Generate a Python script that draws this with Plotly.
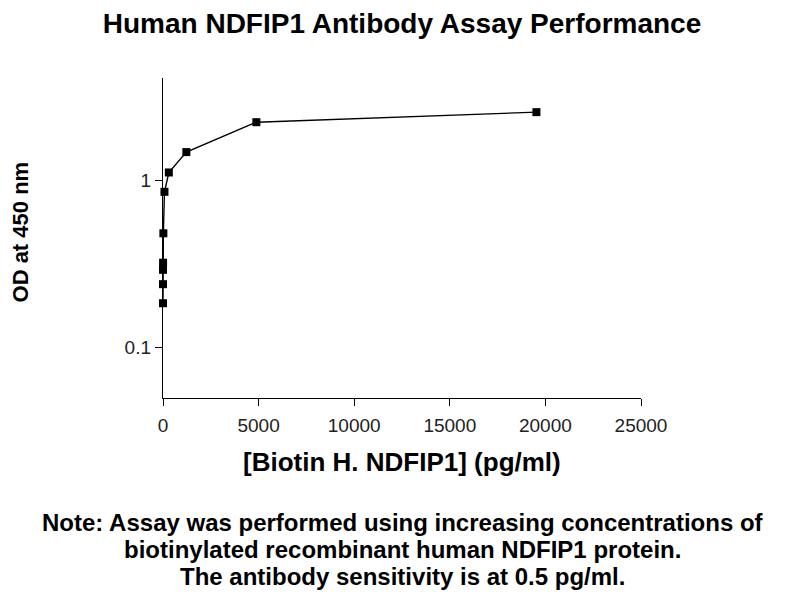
import plotly.graph_objects as go

# concentraciones (pg/ml) y lecturas de OD a 450 nm
concentracion = [0.076, 0.3, 1.22, 4.88, 19.5, 76.3, 305, 1221, 4883, 19531]
od_450 = [0.183, 0.238, 0.29, 0.32, 0.48, 0.85, 1.11, 1.47, 2.22, 2.55]

x_ticks = [0, 5000, 10000, 15000, 20000, 25000]
x_tick_text = ['0', '5000', '10000', '15000', '20000', '25000']
y_ticks = [0.1, 1]
y_tick_text = ['0.1', '1']

titulo = 'Human NDFIP1 Antibody Assay Performance'
titulo_x = '[Biotin H. NDFIP1] (pg/ml)'
titulo_y = 'OD at 450 nm'
nota = [
    'Note: Assay was performed using increasing concentrations of',
    'biotinylated recombinant human NDFIP1 protein.',
    'The antibody sensitivity is at 0.5 pg/ml.',
]

fuente = 'Liberation Sans, Arial, sans-serif'

fig = go.Figure()
fig.add_trace(go.Scatter(
    x=concentracion,
    y=od_450,
    mode='lines+markers',
    line=dict(color='black', width=1.4),
    marker=dict(symbol='square', size=8, color='black'),
    showlegend=False,
    cliponaxis=False,
))

fig.update_layout(
    width=800,
    height=600,
    margin=dict(l=155, r=167, t=70, b=210),
    plot_bgcolor='white',
    paper_bgcolor='white',
    font=dict(family=fuente, color='#111'),
    title=dict(
        text='<b>' + titulo + '</b>',
        x=0.5, xref='paper', xanchor='center',
        y=0.975, yref='container', yanchor='middle',
        font=dict(size=28, color='black'),
    ),
)

fig.update_xaxes(
    range=[0, 25000],
    tickvals=x_ticks,
    ticktext=x_tick_text,
    ticks='outside', ticklen=7, tickwidth=1.4, tickcolor='black',
    ticklabelstandoff=3,
    showline=True, linecolor='black', linewidth=1.4,
    showgrid=False, zeroline=False,
    tickfont=dict(size=19, color='#222'),
)
fig.update_yaxes(
    type='log',
    range=[-1.305, 0.611],
    tickvals=y_ticks,
    ticktext=y_tick_text,
    ticks='outside', ticklen=7, tickwidth=1.4, tickcolor='black',
    showline=True, linecolor='black', linewidth=1.4,
    showgrid=False, zeroline=False,
    tickfont=dict(size=19, color='#222'),
)

# títulos de ejes como anotaciones para ubicarlos con precisión
fig.add_annotation(
    text='<b>' + titulo_x + '</b>',
    x=0.5, xref='paper', xanchor='center',
    y=-0.2, yref='paper', yanchor='middle',
    showarrow=False,
    font=dict(size=26, color='black'),
)
fig.add_annotation(
    text='<b>' + titulo_y + '</b>',
    x=-0.298, xref='paper', xanchor='center',
    y=0.519, yref='paper', yanchor='middle',
    textangle=-90,
    showarrow=False,
    font=dict(size=22, color='black'),
)

for i, linea in enumerate(nota):
    fig.add_annotation(
        text='<b>' + linea + '</b>',
        x=0.502, xref='paper', xanchor='center',
        y=-0.3875 - i * 27 / 320, yref='paper', yanchor='middle',
        showarrow=False,
        font=dict(size=24, color='black'),
    )

fig.write_html('out.html')
